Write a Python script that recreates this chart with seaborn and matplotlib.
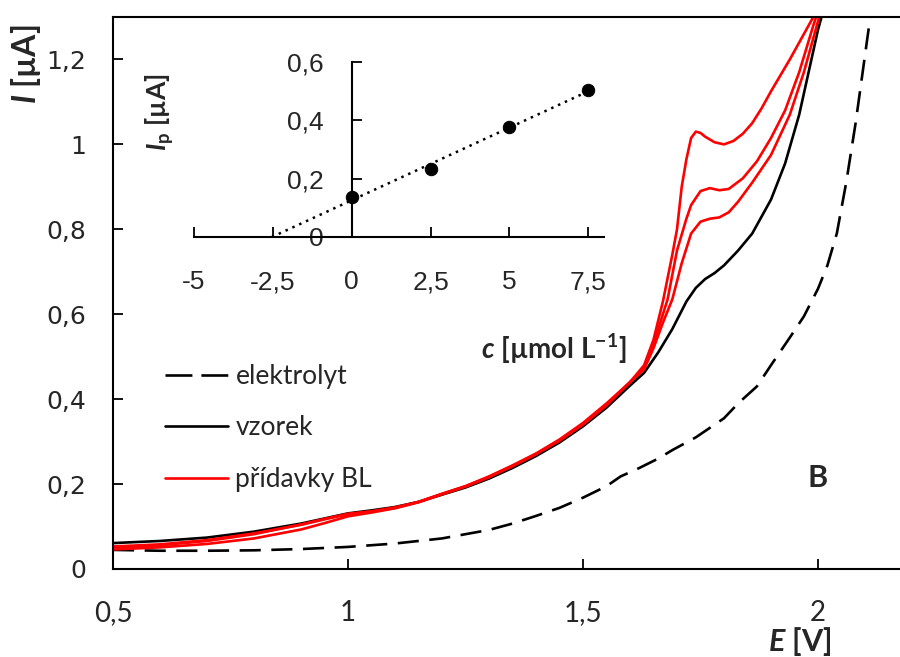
import numpy as np
import matplotlib
matplotlib.use("Agg")
import matplotlib.pyplot as plt
from matplotlib.ticker import FuncFormatter
import seaborn as sns

# voltammogramy, E [V] a I [uA]
E_elektrolyt = [0.50, 0.60, 0.70, 0.80, 0.90, 1.00, 1.10, 1.20, 1.30, 1.35, 1.40, 1.45, 1.50, 1.55,
                1.58, 1.62, 1.66, 1.69, 1.74, 1.76, 1.80, 1.83, 1.87, 1.90, 1.94, 1.97, 2.00, 2.02,
                2.04, 2.06, 2.08, 2.10, 2.115]
I_elektrolyt = [0.045, 0.043, 0.043, 0.044, 0.047, 0.052, 0.060, 0.072, 0.092, 0.107, 0.125, 0.144,
                0.168, 0.195, 0.218, 0.238, 0.260, 0.280, 0.310, 0.325, 0.355, 0.390, 0.430, 0.480,
                0.545, 0.595, 0.660, 0.715, 0.790, 0.910, 1.050, 1.210, 1.330]

E_vzorek = [0.50, 0.60, 0.70, 0.80, 0.90, 0.95, 1.00, 1.05, 1.10, 1.15, 1.20, 1.25, 1.30, 1.35, 1.40,
            1.45, 1.50, 1.55, 1.60, 1.63, 1.66, 1.69, 1.72, 1.74, 1.76, 1.78, 1.80, 1.83, 1.86, 1.90,
            1.93, 1.96, 1.98, 2.00, 2.015]
I_vzorek = [0.061, 0.066, 0.074, 0.088, 0.107, 0.119, 0.131, 0.138, 0.146, 0.158, 0.175, 0.192, 0.213,
            0.238, 0.266, 0.298, 0.336, 0.380, 0.432, 0.462, 0.510, 0.565, 0.630, 0.662, 0.683, 0.697,
            0.715, 0.750, 0.790, 0.870, 0.955, 1.070, 1.170, 1.270, 1.330]

E_spol = [0.50, 0.60, 0.70, 0.80, 0.90, 0.95, 1.00, 1.05, 1.10, 1.15, 1.20, 1.25, 1.30, 1.35, 1.40,
          1.45, 1.50, 1.55, 1.60]

E_bl1 = E_spol + [1.63, 1.65, 1.67, 1.69, 1.71, 1.73, 1.75, 1.77, 1.79, 1.81, 1.83, 1.86, 1.90, 1.94,
                  1.97, 2.00, 2.01]
I_bl1 = [0.046, 0.051, 0.059, 0.072, 0.093, 0.108, 0.124, 0.133, 0.143, 0.157, 0.176, 0.194, 0.216,
         0.242, 0.270, 0.302, 0.340, 0.385, 0.440,
         0.470, 0.520, 0.580, 0.635, 0.720, 0.790, 0.818, 0.825, 0.828, 0.840, 0.865, 0.910, 0.975,
         1.070, 1.170, 1.290, 1.330]

E_bl2 = E_spol + [1.63, 1.65, 1.68, 1.70, 1.72, 1.73, 1.75, 1.77, 1.79, 1.81, 1.84, 1.87, 1.90, 1.93,
                  1.96, 1.99, 2.005]
I_bl2 = [0.053, 0.058, 0.068, 0.084, 0.104, 0.117, 0.129, 0.135, 0.144, 0.158, 0.177, 0.195, 0.217,
         0.243, 0.271, 0.303, 0.342, 0.387, 0.440,
         0.475, 0.530, 0.635, 0.750, 0.825, 0.857, 0.890, 0.897, 0.892, 0.895, 0.920, 0.960, 1.015,
         1.080, 1.170, 1.280, 1.330]

E_bl3 = E_spol + [1.63, 1.65, 1.67, 1.69, 1.70, 1.71, 1.72, 1.73, 1.74, 1.75, 1.76, 1.78, 1.80, 1.82,
                  1.84, 1.86, 1.88, 1.90, 1.94, 1.97, 1.99, 2.00]
I_bl3 = [0.050, 0.056, 0.066, 0.082, 0.105, 0.118, 0.130, 0.136, 0.145, 0.158, 0.177, 0.195, 0.218,
         0.244, 0.272, 0.305, 0.344, 0.390, 0.440,
         0.480, 0.540, 0.630, 0.740, 0.800, 0.900, 0.965, 1.015, 1.030, 1.027, 1.018, 1.005, 1.000,
         1.008, 1.025, 1.050, 1.085, 1.125, 1.200, 1.260, 1.300, 1.330]

# kalibrace (vlozeny graf)
c_bl = [0, 2.5, 5, 7.5]
Ip = [0.137, 0.233, 0.377, 0.504]

x_ticks = [0.5, 1, 1.5, 2]
y_ticks = [0, 0.2, 0.4, 0.6, 0.8, 1, 1.2]
x_ticks_in = [-5, -2.5, 0, 2.5, 5, 7.5]
y_ticks_in = [0, 0.2, 0.4, 0.6]

sns.set_style("ticks")
plt.rcParams['font.family'] = ['Liberation Sans', 'DejaVu Sans']
plt.rcParams['mathtext.fontset'] = 'custom'
plt.rcParams['mathtext.rm'] = 'Lato'
plt.rcParams['mathtext.bf'] = 'Lato:bold'
plt.rcParams['mathtext.bfit'] = 'Lato:italic:bold'

carka = FuncFormatter(lambda v, p: f'{v:g}'.replace('.', ','))

fig = plt.figure(figsize=(9, 6.57), dpi=100)
ax = fig.add_axes([113 / 900, 88 / 657, 799 / 900, 552 / 657])

lw = 1.9
sns.lineplot(x=E_elektrolyt, y=I_elektrolyt, ax=ax, color='black', lw=lw, sort=False,
             estimator=None, linestyle=(0, (8, 4)), label='elektrolyt')
sns.lineplot(x=E_vzorek, y=I_vzorek, ax=ax, color='black', lw=lw, sort=False,
             estimator=None, label='vzorek')
sns.lineplot(x=E_bl1, y=I_bl1, ax=ax, color='#ff0000', lw=lw, sort=False,
             estimator=None, label='přídavky BL')
sns.lineplot(x=E_bl2, y=I_bl2, ax=ax, color='#ff0000', lw=lw, sort=False, estimator=None)
sns.lineplot(x=E_bl3, y=I_bl3, ax=ax, color='#ff0000', lw=lw, sort=False, estimator=None)

ax.set_xlim(0.5, 2.2)
ax.set_ylim(0, 1.3)
ax.set_xticks(x_ticks)
ax.set_yticks(y_ticks)
ax.xaxis.set_major_formatter(carka)
ax.yaxis.set_major_formatter(carka)
ax.tick_params(axis='both', direction='in', length=7, width=1.3, color='black')
ax.tick_params(axis='x', labelsize=20, pad=22, labelfontfamily='Lato')
ax.tick_params(axis='y', labelsize=18, pad=19.5, labelfontfamily='DejaVu Sans')
for s in ax.spines.values():
    s.set_linewidth(1.5)
    s.set_color('black')

ax.set_xlabel(r'$\mathbfit{E}$ [V]', fontsize=22, fontweight='bold', family='Lato')
ax.xaxis.set_label_coords(0.86, -0.102)
ax.set_ylabel(r'$\mathbfit{I}$ [µA]', fontsize=23, fontweight='bold', family='Lato')
ax.yaxis.set_label_coords(-0.088, 0.915)

fig.text(818 / 900, 1 - 478 / 657, 'B', fontsize=22, fontweight='bold', family='Lato',
         ha='center', va='center')

leg = ax.legend(loc='upper left', bbox_to_anchor=(165 / 900, 1 - 364 / 657),
                bbox_transform=fig.transFigure, frameon=False, prop={'family': 'Lato', 'size': 19},
                handlelength=2.4, handletextpad=0.27, labelspacing=1.0, borderpad=0,
                borderaxespad=0)
leg.get_lines()[0].set_linestyle((0, (10.2, 3.4)))

# vlozeny graf
ax_in = fig.add_axes([194 / 900, 420 / 657, 410 / 900, 175 / 657])
ax_in.set_facecolor('none')
sns.scatterplot(x=c_bl, y=Ip, ax=ax_in, color='black', s=80, edgecolor='black', zorder=3)
k, q = np.polyfit(c_bl, Ip, 1)
sns.lineplot(x=[-q / k, max(c_bl)], y=[0, k * max(c_bl) + q], ax=ax_in, color='black',
             lw=1.8, linestyle=(0, (1, 2)))
ax_in.set_xlim(-5, 8)
ax_in.set_ylim(0, 0.6)
ax_in.spines['left'].set_position(('data', 0))
ax_in.spines['bottom'].set_position(('data', 0))
ax_in.spines['top'].set_visible(False)
ax_in.spines['right'].set_visible(False)
for s in ['left', 'bottom']:
    ax_in.spines[s].set_linewidth(1.5)
    ax_in.spines[s].set_color('black')
ax_in.set_xticks(x_ticks_in)
ax_in.set_yticks(y_ticks_in)
ax_in.xaxis.set_major_formatter(carka)
ax_in.yaxis.set_major_formatter(carka)
ax_in.tick_params(axis='both', direction='in', length=7, width=1.3, color='black', labelsize=19)
ax_in.tick_params(axis='x', pad=24)
ax_in.tick_params(axis='y', pad=20)
ax_in.set_xlabel('')
ax_in.set_ylabel('')

fig.text(160 / 900, 1 - 112 / 657, r'$\mathbfit{I}_{\mathbf{p}}$ [µA]', rotation=90,
         fontsize=19, fontweight='bold', family='Lato', ha='center', va='center')
fig.text(554 / 900, 1 - 349 / 657, r'$\mathbfit{c}$ [µmol L$^{\mathbf{-1}}$]',
         fontsize=20, fontweight='bold', family='Lato', ha='center', va='center')

fig.savefig('out.png', dpi=100)
